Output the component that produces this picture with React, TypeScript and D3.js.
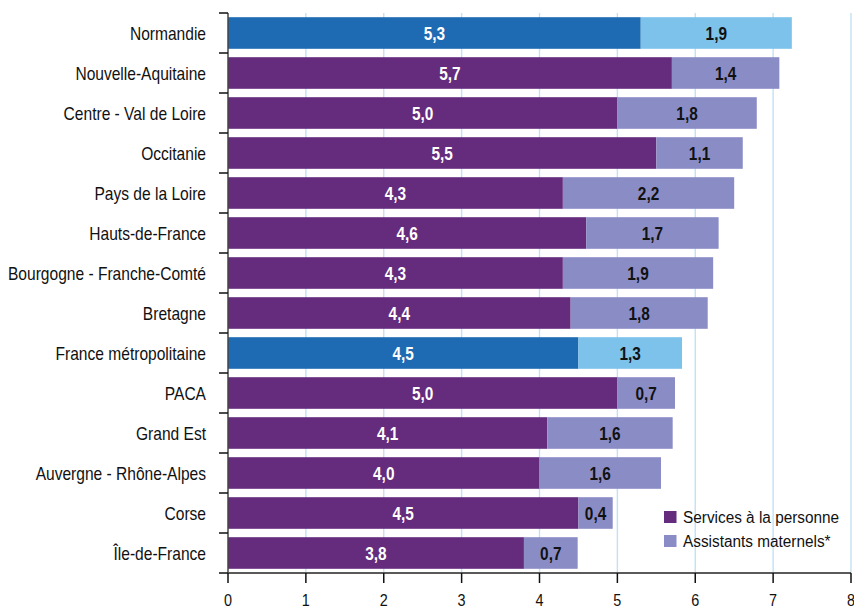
import React from "react";
import * as d3 from "d3";

const regions = [
  "Normandie",
  "Nouvelle-Aquitaine",
  "Centre - Val de Loire",
  "Occitanie",
  "Pays de la Loire",
  "Hauts-de-France",
  "Bourgogne - Franche-Comté",
  "Bretagne",
  "France métropolitaine",
  "PACA",
  "Grand Est",
  "Auvergne - Rhône-Alpes",
  "Corse",
  "Île-de-France",
];
const services = [5.3, 5.7, 5.0, 5.5, 4.3, 4.6, 4.3, 4.4, 4.5, 5.0, 4.1, 4.0, 4.5, 3.8];
const assistants = [1.94, 1.38, 1.79, 1.11, 2.2, 1.7, 1.93, 1.76, 1.33, 0.74, 1.61, 1.56, 0.44, 0.69];
const highlighted = ["Normandie", "France métropolitaine"];
const xTicks = [0, 1, 2, 3, 4, 5, 6, 7, 8];
const seriesNames = ["Services à la personne", "Assistants maternels*"];

const width = 854;
const height = 610;
const margin = { top: 13, right: 3, bottom: 37, left: 228 };
const font = "'Liberation Sans', Arial, Helvetica, sans-serif";

const colors = {
  services: "#652b7d",
  assistants: "#8a8cc6",
  servicesHi: "#1e6bb4",
  assistantsHi: "#7cc2ea",
};

const fmt = (v: number) => v.toFixed(1).replace(".", ",");

const x = d3
  .scaleLinear()
  .domain([0, 8])
  .range([margin.left, width - margin.right]);
const y = d3
  .scaleBand<string>()
  .domain(regions)
  .range([margin.top, height - margin.bottom])
  .paddingInner(0.21)
  .paddingOuter(0.105);
const step = y.step();
const bottom = height - margin.bottom;

// condensed-looking text: Liberation Sans squeezed horizontally
const Txt = ({
  x: tx,
  y: ty,
  anchor = "start",
  size = 17,
  sx = 0.88,
  bold = false,
  fill = "#111",
  children,
}: {
  x: number;
  y: number;
  anchor?: "start" | "middle" | "end";
  size?: number;
  sx?: number;
  bold?: boolean;
  fill?: string;
  children: React.ReactNode;
}) => (
  <g transform={`translate(${tx},${ty}) scale(${sx},1)`}>
    <text
      textAnchor={anchor}
      fontSize={size}
      fontWeight={bold ? "bold" : "normal"}
      fill={fill}
    >
      {children}
    </text>
  </g>
);

const App = () => {
  return (
    <svg
      width={width}
      height={height}
      style={{ position: "absolute", left: 0, top: 0, background: "#fff" }}
      fontFamily={font}
    >
      {/* grid */}
      {xTicks.slice(1).map((t) => (
        <line
          key={t}
          x1={x(t)}
          x2={x(t)}
          y1={margin.top}
          y2={bottom}
          stroke="#c2e1f4"
          strokeWidth={1.4}
        />
      ))}

      {/* bars */}
      {regions.map((r, i) => {
        const hi = highlighted.includes(r);
        const y0 = y(r) ?? 0;
        const s = services[i];
        const a = assistants[i];
        const cy = y0 + y.bandwidth() / 2;
        return (
          <g key={r}>
            <rect
              x={x(0)}
              y={y0}
              width={x(s) - x(0)}
              height={y.bandwidth()}
              fill={hi ? colors.servicesHi : colors.services}
            />
            <rect
              x={x(s)}
              y={y0}
              width={x(s + a) - x(s)}
              height={y.bandwidth()}
              fill={hi ? colors.assistantsHi : colors.assistants}
            />
            <Txt x={(x(0) + x(s)) / 2} y={cy + 6.5} anchor="middle" fill="#fff" bold size={17.5}>
              {fmt(s)}
            </Txt>
            <Txt x={(x(s) + x(s + a)) / 2} y={cy + 6.5} anchor="middle" fill="#111" bold size={17.5}>
              {fmt(a)}
            </Txt>
            <Txt x={x(0) - 22} y={cy + 6.5} anchor="end" size={17.5} sx={0.89}>
              {r}
            </Txt>
          </g>
        );
      })}

      {/* left axis */}
      <line x1={x(0)} x2={x(0)} y1={margin.top} y2={bottom} stroke="#444" strokeWidth={1.5} />
      {d3.range(regions.length + 1).map((k) => (
        <line
          key={k}
          x1={x(0) - 9}
          x2={x(0)}
          y1={margin.top + k * step}
          y2={margin.top + k * step}
          stroke="#111"
          strokeWidth={1.5}
        />
      ))}

      {/* bottom axis */}
      <line x1={x(0)} x2={x(8)} y1={bottom} y2={bottom} stroke="#5a5a5a" strokeWidth={2} />
      {xTicks.map((t) => (
        <g key={t}>
          <line x1={x(t)} x2={x(t)} y1={bottom} y2={bottom + 10} stroke="#111" strokeWidth={1.5} />
          <Txt x={x(t)} y={bottom + 33} anchor="middle" size={16} sx={0.9}>
            {t}
          </Txt>
        </g>
      ))}

      {/* legend */}
      {seriesNames.map((n, i) => (
        <g key={n} transform={`translate(664, ${511 + i * 24})`}>
          <rect width={12.5} height={12} fill={i === 0 ? colors.services : colors.assistants} />
          <Txt x={19} y={11.5} size={16} sx={0.96}>
            {n}
          </Txt>
        </g>
      ))}
    </svg>
  );
};

export default App;
